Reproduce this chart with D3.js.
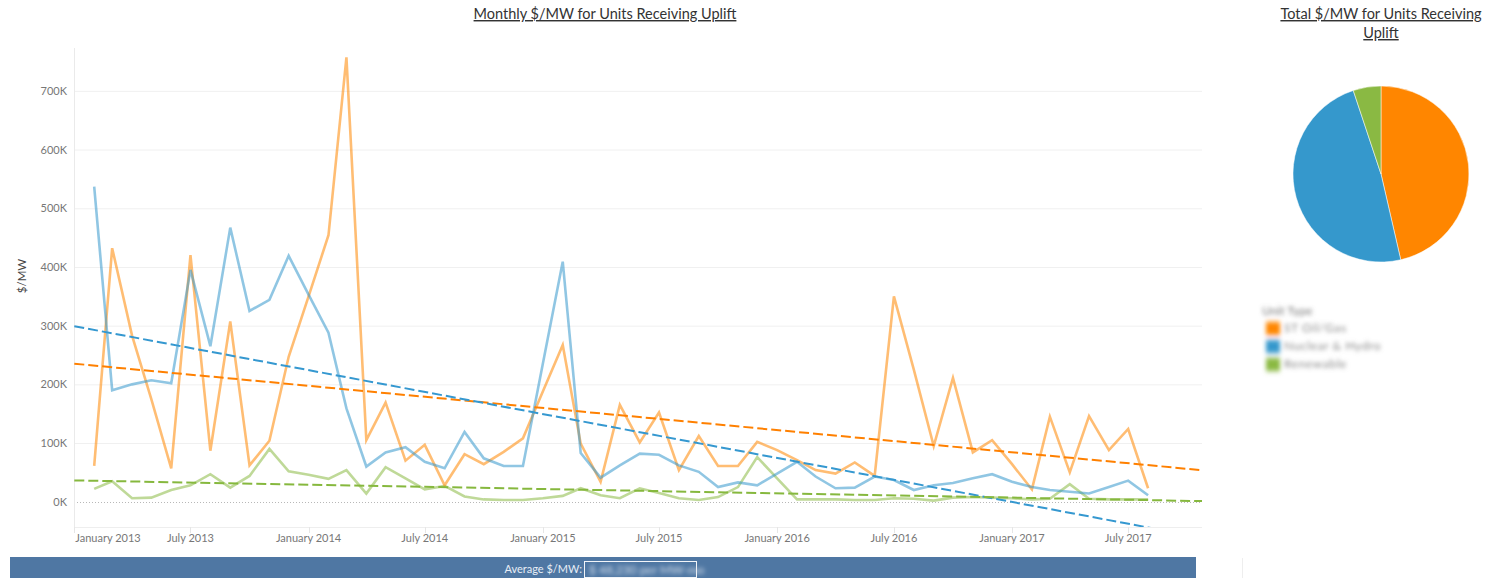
<!DOCTYPE html>
<html lang="en">
<head>
  <meta charset="UTF-8">
  <title>Monthly $/MW for Units Receiving Uplift</title>
  <script src="https://d3js.org/d3.v7.min.js"></script>
  <style>
    body { margin: 0; background: #fff; }
    svg { display: block; font-family: Lato, "Open Sans", sans-serif; }
  </style>
</head>
<body>
  <script>
    // monthly series, Feb 2013 .. Aug 2017 (values in $K per MW)
    const firstMonth = '2013-02-01'
    const lastMonth = '2017-08-01'
    const unitTypes = ['ST Oil/Gas', 'Nuclear & Hydro', 'Renewable']
    const orangeVals = [61, 432, 283, 175, 57, 420, 87, 307, 62, 104,
      247, 350, 454, 757, 105, 169, 70, 97, 28, 81,
      64, 85, 108, 188, 267, 99, 34, 165, 101, 152,
      54, 112, 61, 61, 102, 88, 71, 54, 48, 67,
      44, 350, 225, 95, 211, 84, 105, 64, 21, 145,
      50, 146, 88, 124, 23]
    const blueVals = [537, 190, 200, 207, 202, 395, 265, 467, 325, 344,
      419, 353, 288, 159, 60, 84, 93, 68, 57, 119,
      74, 61, 61, 235, 409, 83, 41, 62, 82, 80,
      62, 51, 25, 33, 28, 48, 68, 43, 23, 24,
      43, 37, 20, 28, 32, 40, 47, 34, 25, 20,
      17, 14, 25, 36, 11]
    const greenVals = [22, 35, 6, 7, 20, 28, 47, 24, 44, 90,
      52, 46, 39, 54, 14, 59, 40, 21, 27, 9,
      4, 3, 3, 6, 10, 23, 11, 6, 23, 15,
      6, 3, 8, 25, 76, 40, 4, 4, 4, 3,
      3, 6, 5, 2, 7, 8, 7, 6, 4, 5,
      30, 5, 4, 4, 4]
    // share of total $/MW (pie), same order as unitTypes
    const pieShares = [46.4, 48.5, 5.1]
    const yTicks = [0, 100, 200, 300, 400, 500, 600, 700]
    const xTickLabels = ['January 2013', 'July 2013', 'January 2014', 'July 2014', 'January 2015',
      'July 2015', 'January 2016', 'July 2016', 'January 2017', 'July 2017']

    const pieColors = ['#ff8600', '#3598cc', '#8ab943']
    const trendColors = ['#ff8000', '#3598d0', '#86b83e']

    const W = 1489, H = 578
    const plot = { left: 74, right: 1202, top: 48, bottom: 527 }

    const parse = d3.utcParse('%Y-%m-%d')
    const months = d3.utcMonth.range(parse(firstMonth), d3.utcMonth.offset(parse(lastMonth), 1))
    const seriesVals = [orangeVals, blueVals, greenVals]

    const svg = d3.select('body').append('svg')
      .attr('width', W)
      .attr('height', H)

    const defs = svg.append('defs')
    defs.append('clipPath').attr('id', 'plotclip')
      .append('rect')
      .attr('x', plot.left).attr('y', plot.top)
      .attr('width', plot.right - plot.left).attr('height', plot.bottom - plot.top)
    defs.append('filter').attr('id', 'blur')
      .attr('x', '-20%').attr('y', '-50%').attr('width', '140%').attr('height', '200%')
      .append('feGaussianBlur').attr('stdDeviation', 2)

    const x = d3.scaleUtc()
      .domain([parse('2013-01-01'), parse('2017-10-24')])
      .range([plot.left + 0.3, plot.right])
    const y = d3.scaleLinear()
      .domain([-43, 773])
      .range([plot.bottom, plot.top])

    // titles
    svg.append('text')
      .attr('x', 605).attr('y', 19)
      .attr('text-anchor', 'middle')
      .attr('font-size', 14.5)
      .attr('fill', '#333')
      .attr('text-decoration', 'underline')
      .text('Monthly $/MW for Units Receiving Uplift')

    const pieTitle = svg.append('text')
      .attr('text-anchor', 'middle')
      .attr('font-size', 14.5)
      .attr('fill', '#333')
      .attr('text-decoration', 'underline')
    pieTitle.append('tspan').attr('x', 1381).attr('y', 19).text('Total $/MW for Units Receiving')
    pieTitle.append('tspan').attr('x', 1381).attr('y', 38).text('Uplift')

    // gridlines
    svg.append('g')
      .selectAll('line')
      .data(yTicks.filter(d => d !== 0))
      .enter()
      .append('line')
      .attr('x1', plot.left).attr('x2', plot.right)
      .attr('y1', d => y(d) + 0.5).attr('y2', d => y(d) + 0.5)
      .attr('stroke', '#f0f0f0')

    svg.append('line')
      .attr('x1', plot.left).attr('x2', plot.right)
      .attr('y1', Math.round(y(0)) + 0.5).attr('y2', Math.round(y(0)) + 0.5)
      .attr('stroke', '#b8b8b8')
      .attr('stroke-dasharray', '1,2')

    svg.append('line')
      .attr('x1', plot.left + 0.5).attr('x2', plot.left + 0.5)
      .attr('y1', plot.top).attr('y2', plot.bottom)
      .attr('stroke', '#eaeaea')
    svg.append('line')
      .attr('x1', plot.left).attr('x2', plot.right)
      .attr('y1', plot.bottom + 0.5).attr('y2', plot.bottom + 0.5)
      .attr('stroke', '#eeeeee')

    // y axis labels
    svg.append('g')
      .selectAll('text')
      .data(yTicks)
      .enter()
      .append('text')
      .attr('x', 67)
      .attr('y', d => y(d) + 4)
      .attr('text-anchor', 'end')
      .attr('font-size', 11)
      .attr('fill', '#777')
      .text(d => d + 'K')

    svg.append('text')
      .attr('transform', 'translate(26,276) rotate(-90)')
      .attr('text-anchor', 'middle')
      .attr('font-size', 11.5)
      .attr('fill', '#444')
      .text('$/MW')

    // x axis ticks + labels (every 6 months)
    const xTicks = d3.utcMonth.every(6).range(parse('2013-01-01'), parse('2017-07-02'))
    const xt = svg.append('g')
    xt.selectAll('line')
      .data(xTicks)
      .enter()
      .append('line')
      .attr('x1', d => Math.round(x(d)) + 0.5).attr('x2', d => Math.round(x(d)) + 0.5)
      .attr('y1', plot.bottom).attr('y2', plot.bottom + 6)
      .attr('stroke', '#e6e6e6')
    xt.selectAll('text')
      .data(xTicks)
      .enter()
      .append('text')
      .attr('x', (d, i) => i === 0 ? x(d) + 1 : x(d))
      .attr('y', 542)
      .attr('text-anchor', (d, i) => i === 0 ? 'start' : 'middle')
      .attr('font-size', 11)
      .attr('fill', '#777')
      .text((d, i) => xTickLabels[i])

    // series lines
    const line = d3.line()
      .x((d, i) => x(months[i]))
      .y(d => y(d))
    const lines = svg.append('g').attr('clip-path', 'url(#plotclip)')
    const drawOrder = [2, 0, 1]
    drawOrder.forEach(k => {
      lines.append('path')
        .datum(seriesVals[k])
        .attr('d', line)
        .attr('fill', 'none')
        .attr('stroke', pieColors[k])
        .attr('stroke-opacity', 0.55)
        .attr('stroke-width', 2.6)
        .attr('stroke-linejoin', 'miter')
    })

    // linear trend lines (least squares over time)
    const xDom = x.domain()
    seriesVals.forEach((vals, k) => {
      const pts = vals.map((v, i) => [+months[i], v])
      const mx = d3.mean(pts, p => p[0])
      const my = d3.mean(pts, p => p[1])
      const slope = d3.sum(pts, p => (p[0] - mx) * (p[1] - my)) / d3.sum(pts, p => (p[0] - mx) * (p[0] - mx))
      const f = t => my + slope * (t - mx)
      lines.append('line')
        .attr('x1', x(xDom[0])).attr('y1', y(f(+xDom[0])))
        .attr('x2', x(xDom[1])).attr('y2', y(f(+xDom[1])))
        .attr('stroke', trendColors[k])
        .attr('stroke-width', 2)
        .attr('stroke-dasharray', '10,4')
    })

    // pie
    const pie = d3.pie().sort(null).value(d => d)
    const arc = d3.arc().innerRadius(0).outerRadius(88)
    svg.append('g')
      .attr('transform', 'translate(1381,174)')
      .selectAll('path')
      .data(pie(pieShares))
      .enter()
      .append('path')
      .attr('d', arc)
      .attr('fill', (d, i) => pieColors[i])
      .attr('stroke', '#fff')
      .attr('stroke-width', 0.5)

    // legend (blurred in the source)
    const lg = svg.append('g').attr('filter', 'url(#blur)')
    lg.append('text')
      .attr('x', 1262).attr('y', 315)
      .attr('font-size', 12).attr('fill', '#777')
      .text('Unit Type')
    unitTypes.forEach((t, i) => {
      const yy = 320 + i * 18
      lg.append('rect').attr('x', 1266).attr('y', yy).attr('width', 14).attr('height', 17)
        .attr('fill', pieColors[i]).attr('fill-opacity', 0.4)
      lg.append('rect').attr('x', 1266).attr('y', yy + 3).attr('width', 14).attr('height', 11)
        .attr('fill', pieColors[i])
      lg.append('text')
        .attr('x', 1284).attr('y', yy + 12)
        .attr('font-size', 12).attr('fill', '#888')
        .attr('letter-spacing', 0.6)
        .text(t)
    })

    // bottom summary bar
    svg.append('rect')
      .attr('x', 10).attr('y', 557)
      .attr('width', 1186).attr('height', 21)
      .attr('fill', '#4f77a3')
    svg.append('text')
      .attr('x', 582).attr('y', 573)
      .attr('text-anchor', 'end')
      .attr('font-size', 11)
      .attr('fill', '#e8eef6')
      .text('Average $/MW:')
    svg.append('rect')
      .attr('x', 584.5).attr('y', 561.5)
      .attr('width', 112).attr('height', 16)
      .attr('fill', 'none')
      .attr('stroke', '#f2f5f9')
    svg.append('text')
      .attr('x', 589).attr('y', 574)
      .attr('font-size', 12)
      .attr('fill', '#d6e0ec')
      .attr('filter', 'url(#blur)')
      .text('$ 48,230 per MW-mo')
    svg.append('line')
      .attr('x1', 1242.5).attr('x2', 1242.5)
      .attr('y1', 558).attr('y2', 578)
      .attr('stroke', '#eeeeee')
  </script>
</body>
</html>
